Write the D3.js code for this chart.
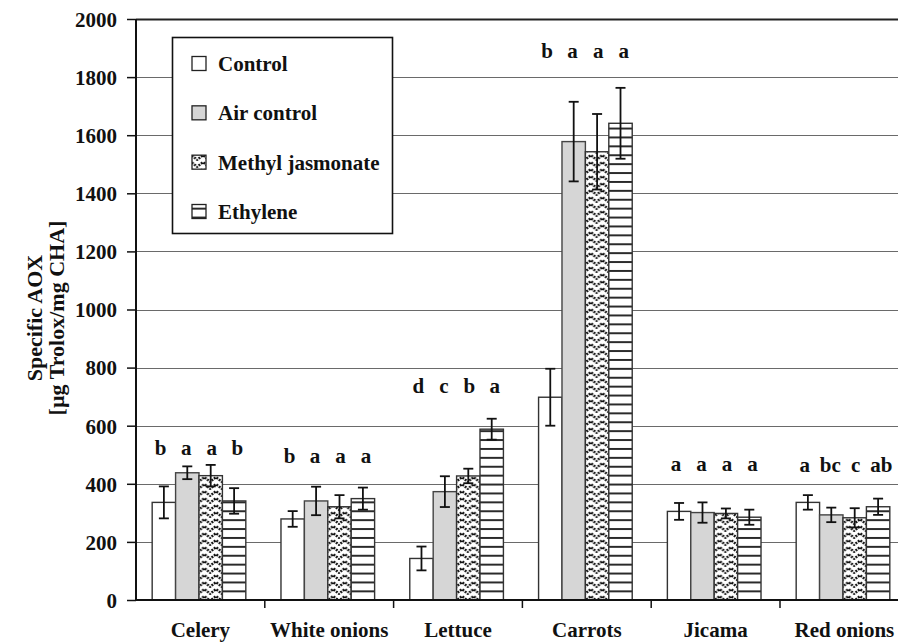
<!DOCTYPE html>
<html>
<head>
<meta charset="utf-8">
<script src="https://cdn.jsdelivr.net/npm/d3@7"></script>
<style>
  html, body { margin: 0; padding: 0; background: #fff; }
  svg { display: block; }
  text { font-family: "Liberation Serif", "Times New Roman", serif; font-weight: bold; fill: #111; }
</style>
</head>
<body>
<svg id="chart" width="898" height="644"></svg>
<script>
// Specific antioxidant capacity per treatment and vegetable
const categories = ["Celery", "White onions", "Lettuce", "Carrots", "Jicama", "Red onions"];
const seriesNames = ["Control", "Air control", "Methyl jasmonate", "Ethylene"];

const control         = [336, 279, 143,  698, 305, 336];
const controlErr      = [ 55,  27,  41,   98,  29,  25];
const airControl      = [438, 341, 373, 1578, 301, 293];
const airControlErr   = [ 22,  49,  53,  137,  35,  25];
const methylJasmonate = [428, 321, 427, 1543, 298, 283];
const methylErr       = [ 37,  40,  25,  130,  17,  33];
const ethylene        = [341, 349, 588, 1641, 285, 321];
const ethyleneErr     = [ 44,  38,  36,  122,  26,  28];

// significance letters per vegetable, and the value level they sit at
const letters = [
  ["b", "a", "a", "b"],
  ["b", "a", "a", "a"],
  ["d", "c", "b", "a"],
  ["b", "a", "a", "a"],
  ["a", "a", "a", "a"],
  ["a", "bc", "c", "ab"]
];
const letterLevel = [500, 470, 712, 1866, 444, 440];

const yTicks = [0, 200, 400, 600, 800, 1000, 1200, 1400, 1600, 1800, 2000];

const seriesValues = [control, airControl, methylJasmonate, ethylene];
const seriesErrors = [controlErr, airControlErr, methylErr, ethyleneErr];

(function draw() {
  const svg = d3.select("#chart");
  const W = 898;
  const plotLeft = 136, plotBottom = 600, plotTop = 19;

  const y = d3.scaleLinear().domain([0, 2000]).range([plotBottom, plotTop]);
  const x0 = d3.scaleBand().domain(categories).range([plotLeft, 908.8])
    .paddingInner(0.273).paddingOuter(0.1365).align(0.46);
  const x1 = d3.scaleBand().domain(seriesNames).range([0, x0.bandwidth()]);

  // fill patterns: dotted chevrons and horizontal stripes
  const defs = svg.append("defs");
  const mj = defs.append("pattern").attr("id", "pat-mj")
    .attr("patternUnits", "userSpaceOnUse").attr("width", 11.6).attr("height", 7);
  mj.append("rect").attr("width", 11.6).attr("height", 7).attr("fill", "#fff");
  mj.append("path").attr("d", "M-1,6.4 L5.8,1.3 L12.6,6.4")
    .attr("fill", "none").attr("stroke", "#111").attr("stroke-width", 2.5)
    .attr("stroke-dasharray", "2,1");
  const eth = defs.append("pattern").attr("id", "pat-eth")
    .attr("patternUnits", "userSpaceOnUse").attr("width", 10).attr("height", 8.9);
  eth.append("rect").attr("width", 10).attr("height", 8.9).attr("fill", "#fff");
  eth.append("rect").attr("y", 3).attr("width", 10).attr("height", 1.9).attr("fill", "#222");

  const fills = ["#ffffff", "#d6d6d6", "url(#pat-mj)", "url(#pat-eth)"];
  const strokes = ["#333", "#444", "#333", "#333"];

  // horizontal grid lines
  svg.append("g").selectAll("line").data(yTicks.filter(t => t > 0)).join("line")
    .attr("x1", plotLeft).attr("x2", W)
    .attr("y1", d => Math.round(y(d)) + 0.5).attr("y2", d => Math.round(y(d)) + 0.5)
    .attr("stroke", d => d === 2000 ? "#222" : "#6a6a6a")
    .attr("stroke-width", d => d === 2000 ? 1.8 : 1.2);

  // bars, error bars and letters
  const groups = svg.append("g").selectAll("g").data(categories).join("g")
    .attr("transform", d => `translate(${x0(d)},0)`);

  groups.each(function(cat, ci) {
    const g = d3.select(this);
    seriesNames.forEach((s, si) => {
      const v = seriesValues[si][ci];
      g.append("rect")
        .attr("x", x1(s)).attr("width", x1.bandwidth())
        .attr("y", y(v)).attr("height", y(0) - y(v))
        .attr("fill", fills[si]).attr("stroke", strokes[si]).attr("stroke-width", 1.4);
    });
    seriesNames.forEach((s, si) => {
      const v = seriesValues[si][ci], e = seriesErrors[si][ci];
      const cx = x1(s) + x1.bandwidth() / 2;
      const eg = g.append("g").attr("stroke", "#111").attr("stroke-width", 1.8);
      eg.append("line").attr("x1", cx).attr("x2", cx).attr("y1", y(v + e)).attr("y2", y(v - e));
      eg.append("line").attr("x1", cx - 5).attr("x2", cx + 5).attr("y1", y(v + e)).attr("y2", y(v + e));
      eg.append("line").attr("x1", cx - 5).attr("x2", cx + 5).attr("y1", y(v - e)).attr("y2", y(v - e));
    });
    const mid = x0.bandwidth() / 2;
    seriesNames.forEach((s, si) => {
      const cx = x1(s) + x1.bandwidth() / 2;
      g.append("text")
        .attr("x", mid + (cx - mid) * 1.09)
        .attr("y", y(letterLevel[ci]))
        .attr("text-anchor", "middle")
        .attr("font-size", 21)
        .text(letters[ci][si]);
    });
  });

  // y axis
  const yAxis = svg.append("g").attr("transform", `translate(${plotLeft},0)`)
    .call(d3.axisLeft(y).tickValues(yTicks).tickSize(9).tickPadding(10).tickFormat(d3.format("d")));
  yAxis.select(".domain").remove();
  yAxis.selectAll(".tick line").attr("stroke", "#111").attr("stroke-width", 1.5);
  yAxis.selectAll(".tick text").attr("font-size", 21).attr("font-family", "Liberation Serif, serif")
    .attr("font-weight", "bold").attr("fill", "#111").attr("dy", "0.35em");
  svg.append("line").attr("x1", plotLeft).attr("x2", plotLeft).attr("y1", plotTop).attr("y2", plotBottom + 1)
    .attr("stroke", "#111").attr("stroke-width", 2);

  // x axis with ticks between categories
  const step = x0.step();
  const xAxisG = svg.append("g");
  xAxisG.append("line").attr("x1", plotLeft).attr("x2", W).attr("y1", plotBottom).attr("y2", plotBottom)
    .attr("stroke", "#111").attr("stroke-width", 2.2);
  xAxisG.selectAll("line.tk").data(categories.slice(1)).join("line").attr("class", "tk")
    .attr("x1", (c, i) => plotLeft + step * (i + 1)).attr("x2", (c, i) => plotLeft + step * (i + 1))
    .attr("y1", plotBottom).attr("y2", plotBottom + 8)
    .attr("stroke", "#111").attr("stroke-width", 1.5);
  xAxisG.selectAll("text").data(categories).join("text")
    .attr("x", (c, i) => plotLeft + step * (i + 0.5))
    .attr("y", 637)
    .attr("text-anchor", "middle")
    .attr("font-size", 21)
    .text(c => c);

  // y axis title
  const ttl = svg.append("text")
    .attr("transform", "translate(0,318) rotate(-90)")
    .attr("text-anchor", "middle")
    .attr("font-size", 22);
  ttl.append("tspan").attr("x", 0).attr("y", 42).text("Specific AOX");
  ttl.append("tspan").attr("x", 0).attr("y", 64).text("[µg Trolox/mg CHA]");

  // legend
  const lg = svg.append("g");
  lg.append("rect").attr("x", 172.5).attr("y", 37.5).attr("width", 220).attr("height", 196)
    .attr("fill", "#fff").attr("stroke", "#111").attr("stroke-width", 1.6);
  const rowY = d3.scalePoint().domain(seriesNames).range([64, 212]);
  seriesNames.forEach((s, si) => {
    lg.append("rect").attr("x", 192).attr("y", rowY(s) - 7.5).attr("width", 14).attr("height", 14)
      .attr("fill", fills[si]).attr("stroke", "#222").attr("stroke-width", 1.3);
    lg.append("text").attr("x", 218).attr("y", rowY(s) + 7).attr("font-size", 21).text(s);
  });
})();
</script>
</body>
</html>
